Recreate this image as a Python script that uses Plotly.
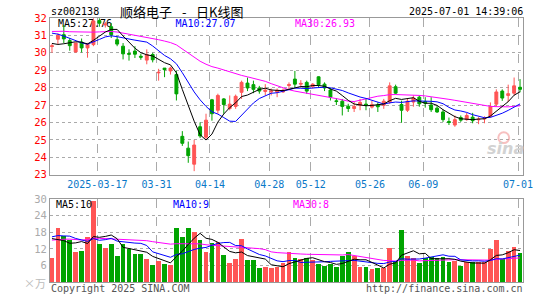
import plotly.graph_objects as go
import pandas as pd

# ---------------- data ----------------
dates = [
    "2025-03-05", "2025-03-06", "2025-03-07", "2025-03-10", "2025-03-11", "2025-03-12", "2025-03-13", "2025-03-14",
    "2025-03-17", "2025-03-18", "2025-03-19", "2025-03-20", "2025-03-21", "2025-03-24", "2025-03-25", "2025-03-26",
    "2025-03-27", "2025-03-28", "2025-03-31",
    "2025-04-01", "2025-04-02", "2025-04-03", "2025-04-07", "2025-04-08", "2025-04-09", "2025-04-10", "2025-04-11",
    "2025-04-14", "2025-04-15", "2025-04-16", "2025-04-17", "2025-04-18", "2025-04-21", "2025-04-22", "2025-04-23",
    "2025-04-24", "2025-04-25", "2025-04-28", "2025-04-29", "2025-04-30",
    "2025-05-06", "2025-05-07", "2025-05-08", "2025-05-09", "2025-05-12", "2025-05-13", "2025-05-14", "2025-05-15",
    "2025-05-16", "2025-05-19", "2025-05-20", "2025-05-21", "2025-05-22", "2025-05-23", "2025-05-26", "2025-05-27",
    "2025-05-28", "2025-05-29", "2025-05-30",
    "2025-06-03", "2025-06-04", "2025-06-05", "2025-06-06", "2025-06-09", "2025-06-10", "2025-06-11", "2025-06-12",
    "2025-06-13", "2025-06-16", "2025-06-17", "2025-06-18", "2025-06-19", "2025-06-20", "2025-06-23", "2025-06-24",
    "2025-06-25", "2025-06-26", "2025-06-27", "2025-06-30",
    "2025-07-01",
]

opens = [30.36, 30.78, 31.04, 30.70, 30.05, 30.62, 30.28, 30.47, 31.85, 31.60,
         31.50, 30.75, 30.38, 29.96, 30.10, 29.80, 29.58, 29.90, 28.85, 29.12,
         28.96, 28.75, 25.20, 24.52, 23.60, 25.75, 25.15, 27.30, 26.70, 27.35,
         26.80, 26.92, 27.73, 28.26, 28.17, 27.98, 27.78, 27.75, 27.75, 27.75,
         28.12, 28.49, 28.20, 28.30, 28.05, 28.62, 28.20, 27.86, 27.24, 27.22,
         26.93, 26.80, 26.98, 27.05, 26.88, 27.00, 26.98, 27.17, 28.05, 27.03,
         26.70, 27.17, 27.45, 27.20, 27.00, 26.82, 26.60, 26.05, 25.85, 26.28,
         26.16, 26.30, 26.15, 26.20, 26.35, 27.05, 27.80, 27.55, 27.68, 28.02]
highs = [30.52, 31.12, 31.60, 30.84, 30.58, 30.82, 30.57, 31.98, 31.98, 31.78,
         31.70, 30.94, 30.56, 30.20, 30.38, 29.95, 30.20, 30.00, 29.08, 29.12,
         29.20, 28.96, 25.50, 24.90, 25.00, 26.00, 26.50, 27.35, 27.65, 27.40,
         27.55, 27.60, 28.40, 28.58, 28.40, 28.10, 28.20, 27.95, 27.95, 27.95,
         28.30, 28.96, 28.43, 28.40, 28.25, 28.65, 28.30, 27.98, 27.40, 27.35,
         27.07, 27.17, 27.35, 27.35, 27.25, 27.15, 27.35, 28.30, 28.17, 27.25,
         27.35, 27.55, 27.55, 27.45, 27.45, 26.97, 26.73, 26.28, 26.40, 26.40,
         26.55, 26.55, 26.30, 26.35, 27.15, 27.90, 27.90, 28.17, 28.58, 28.49]
lows = [30.00, 30.48, 30.56, 30.12, 30.00, 30.02, 29.72, 30.38, 31.50, 31.45,
        30.85, 30.38, 29.62, 29.55, 29.70, 29.60, 29.34, 29.45, 28.40, 28.60,
        28.75, 27.26, 24.65, 23.68, 23.20, 25.10, 25.00, 26.10, 26.50, 26.50,
        26.70, 26.78, 27.35, 27.80, 27.68, 27.65, 27.55, 27.55, 27.45, 27.70,
        27.92, 28.00, 27.98, 27.64, 27.95, 27.98, 27.80, 27.26, 27.00, 26.40,
        26.60, 26.60, 26.70, 26.70, 26.80, 26.60, 26.78, 27.07, 27.62, 25.98,
        26.60, 26.90, 26.90, 26.85, 26.60, 26.55, 26.03, 25.85, 25.75, 26.03,
        26.10, 25.95, 25.90, 25.95, 26.28, 26.90, 27.24, 27.17, 27.55, 27.73]
closes = [30.40, 31.00, 30.80, 30.41, 30.56, 30.28, 30.50, 31.83, 31.70, 31.65,
          31.04, 30.50, 29.94, 29.92, 29.92, 29.75, 29.90, 29.60, 28.88, 29.03,
          29.12, 27.64, 24.80, 24.09, 24.70, 25.22, 26.13, 26.50, 27.55, 27.03,
          27.05, 27.50, 28.30, 27.98, 27.90, 27.80, 27.85, 27.80, 27.85, 27.85,
          28.17, 28.20, 28.24, 27.80, 28.20, 28.17, 27.98, 27.45, 27.20, 26.92,
          26.80, 26.92, 27.15, 27.00, 27.02, 26.90, 27.22, 28.10, 27.68, 26.70,
          27.22, 27.40, 27.07, 27.10, 26.73, 26.60, 26.16, 26.00, 26.16, 26.13,
          26.40, 26.10, 26.18, 26.24, 26.92, 27.75, 27.40, 27.65, 28.10, 27.90]
volumes = [8.7, 19.6, 16.7, 15.2, 10.7, 11.1, 16.1, 29.3, 13.8, 12.3,
           13.7, 9.3, 13.7, 11.7, 10.1, 10.1, 8.3, 6.2, 7.5, 6.5,
           6.2, 19.6, 16.1, 19.6, 17.9, 15.0, 10.7, 14.0, 14.3, 9.6,
           6.8, 8.2, 15.4, 7.9, 7.9, 5.0, 5.4, 5.1, 5.4, 6.7,
           10.7, 8.6, 8.1, 8.7, 7.9, 6.5, 5.7, 6.5, 5.4, 9.3,
           10.7, 9.5, 5.4, 5.4, 4.6, 5.0, 5.0, 12.3, 7.7, 18.6,
           9.3, 8.7, 6.8, 8.6, 9.0, 8.7, 8.9, 7.1, 7.4, 5.7,
           7.1, 7.1, 7.1, 7.1, 11.9, 15.0, 8.1, 11.0, 12.5, 10.5]

# sessions before the visible window, estimated from where the MA lines start
pre_closes = [30.6, 30.9, 31.2, 31.0, 30.7, 30.9, 31.3, 31.2, 31.0, 31.0,
              31.4, 31.7, 31.8, 31.5, 31.3, 31.6, 31.8, 31.5, 31.4, 31.7,
              31.6, 31.9, 31.8, 31.7, 31.6, 31.3, 30.6, 30.2, 30.2]
pre_volumes = [12, 15, 14, 18, 13, 11, 16, 14, 15, 17,
               13, 12, 16, 15, 14, 13, 17, 15, 14, 18,
               15, 18, 16, 19, 17, 21, 19, 20, 10]

tick_dates = ["2025-03-17", "2025-03-31", "2025-04-14", "2025-04-28",
              "2025-05-12", "2025-05-26", "2025-06-09", "2025-07-01"]
tick_labels = ["2025-03-17", "03-31", "04-14", "04-28", "05-12", "05-26", "06-09", "07-01"]
price_ticks = [23, 24, 25, 26, 27, 28, 29, 30, 31, 32]
vol_ticks = [6, 12, 18, 24, 30]

# ---------------- derived ----------------
n = len(dates)
idx = list(range(n))
cs = pd.Series(pre_closes + closes)
vs = pd.Series(pre_volumes + volumes)
k = len(pre_closes)
ma5 = cs.rolling(5).mean().iloc[k:].tolist()
ma10 = cs.rolling(10).mean().iloc[k:].tolist()
ma30 = cs.rolling(30).mean().iloc[k:].tolist()
vma5 = vs.rolling(5).mean().iloc[k:].tolist()
vma10 = vs.rolling(10).mean().iloc[k:].tolist()
vma30 = vs.rolling(30).mean().iloc[k:].tolist()

RED = "#FF5555"
GREEN = "#00A400"
MONO = "DejaVu Sans Mono"
vol_colors = [RED if c >= o else GREEN for o, c in zip(opens, closes)]
tick_pos = [dates.index(d) - 1 / 3 for d in tick_dates]

W, H = 545, 300
L, R, T, B = 50, 16, 18, 14
PH = H - T - B          # plot area height in px
PW = W - L - R


def px(xp):
    return (xp - L) / PW


def py(yp):
    return (H - B - yp) / PH


fig = go.Figure()

# candles
fig.add_trace(go.Candlestick(
    x=idx, open=opens, high=highs, low=lows, close=closes,
    increasing=dict(line=dict(color=RED, width=1), fillcolor=RED),
    decreasing=dict(line=dict(color=GREEN, width=1), fillcolor=GREEN),
    whiskerwidth=0, showlegend=False, hoverinfo="skip",
    xaxis="x", yaxis="y"))

for vals, col in [(ma30, "#FF00FF"), (ma10, "#0000FF"), (ma5, "#000000")]:
    fig.add_trace(go.Scatter(x=idx, y=vals, mode="lines", line=dict(color=col, width=1),
                             showlegend=False, hoverinfo="skip", xaxis="x", yaxis="y"))

# volume
fig.add_trace(go.Bar(x=idx, y=volumes, marker=dict(color=vol_colors, line=dict(width=0)),
                     width=0.8, showlegend=False, hoverinfo="skip", xaxis="x2", yaxis="y2"))
for vals, col in [(vma30, "#FF00FF"), (vma10, "#0000FF"), (vma5, "#000000")]:
    fig.add_trace(go.Scatter(x=idx, y=vals, mode="lines", line=dict(color=col, width=1),
                             showlegend=False, hoverinfo="skip", xaxis="x2", yaxis="y2"))

main_dom = [py(177), py(T)]
vol_dom = [py(H - B), py(202)]

axis_common = dict(showline=True, mirror=True, linecolor="#999999", linewidth=1,
                   zeroline=False, ticks="", fixedrange=True)

fig.update_layout(
    width=W, height=H, autosize=False,
    margin=dict(l=L, r=R, t=T, b=B, pad=0),
    paper_bgcolor="white", plot_bgcolor="white",
    showlegend=False, boxgap=0.3, bargap=0,
    xaxis=dict(domain=[0, 1], range=[-1 / 3, -1 / 3 + PW / 6], anchor="y",
               tickmode="array", tickvals=tick_pos, ticktext=tick_labels,
               showgrid=True, gridcolor="#AAAAAA", griddash="dash", gridwidth=1,
               tickfont=dict(family=MONO, size=10, color="#0A78C8"),
               rangeslider=dict(visible=False), **axis_common),
    yaxis=dict(domain=main_dom, range=[23, 32], anchor="x",
               tickmode="array", tickvals=price_ticks,
               showgrid=True, gridcolor="#AAAAAA", griddash="dot", gridwidth=1,
               tickfont=dict(family=MONO, size=10.5, color="#FF0000"), **axis_common),
    xaxis2=dict(domain=[0, 1], range=[-1 / 3, -1 / 3 + PW / 6], anchor="y2", matches="x",
                tickmode="array", tickvals=tick_pos, showticklabels=False,
                showgrid=True, gridcolor="#AAAAAA", griddash="dash", gridwidth=1,
                **axis_common),
    yaxis2=dict(domain=vol_dom, range=[0, 30], anchor="x2",
                tickmode="array", tickvals=vol_ticks,
                showgrid=True, gridcolor="#AAAAAA", griddash="dot", gridwidth=1,
                tickfont=dict(family=MONO, size=10.5, color="#AAAAAA"), **axis_common),
)

# MA legends in the price panel, drawn beneath the candles
def price_y(yp):
    return 32 - (yp - 18) * 9 / 159


for x_pix, text, col in [(55, "MA5:27.76", "#000000"), (174, "MA10:27.07", "#0000FF"),
                         (295, "MA30:26.93", "#FF00FF")]:
    x0 = (x_pix - 52) / 6
    fig.add_shape(type="rect", xref="x", yref="y", x0=x0, x1=x0 + 12,
                  y0=price_y(29), y1=price_y(17), line=dict(width=0),
                  fillcolor="rgba(0,0,0,0)", layer="between",
                  label=dict(text=text, textposition="middle left", padding=0,
                             font=dict(family=MONO, size=10, color=col)))

annots = []
for x_pix, text, col in [(55, "MA5:10", "#000000"), (174, "MA10:9", "#0000FF"),
                         (295, "MA30:8", "#FF00FF")]:
    annots.append(dict(xref="paper", yref="paper", x=px(x_pix - 1), y=py(207), text=text,
                       xanchor="left", yanchor="middle", showarrow=False,
                       font=dict(family=MONO, size=10, color=col)))

annots += [
    dict(xref="paper", yref="paper", x=px(49), y=py(11), text="sz002138", xanchor="left",
         yanchor="middle", showarrow=False, font=dict(family=MONO, size=10, color="#000000")),
    dict(xref="paper", yref="paper", x=px(119), y=py(11), text="顺络电子", xanchor="left",
         yanchor="middle", showarrow=False,
         font=dict(family="Noto Sans CJK SC", size=13, color="#000000")),
    dict(xref="paper", yref="paper", x=px(186), y=py(11), text="-", xanchor="center",
         yanchor="middle", showarrow=False,
         font=dict(family="Noto Sans CJK SC", size=13, color="#000000")),
    dict(xref="paper", yref="paper", x=px(196), y=py(11), text="日K线图", xanchor="left",
         yanchor="middle", showarrow=False,
         font=dict(family="Noto Sans CJK SC", size=13, color="#000000")),
    dict(xref="paper", yref="paper", x=1.005, y=py(11), text="2025-07-01 14:39:06",
         xanchor="right", yanchor="middle", showarrow=False,
         font=dict(family=MONO, size=10, color="#000000")),
    dict(xref="paper", yref="paper", x=px(49), y=py(293), text="Copyright 2025 SINA.COM",
         xanchor="left", yanchor="middle", showarrow=False,
         font=dict(family=MONO, size=10, color="#555555")),
    dict(xref="paper", yref="paper", x=1.005, y=py(293), text="http://finance.sina.com.cn",
         xanchor="right", yanchor="middle", showarrow=False,
         font=dict(family=MONO, size=10, color="#555555")),
    dict(xref="paper", yref="paper", x=px(35), y=py(287), text="×万", xanchor="center",
         yanchor="middle", showarrow=False,
         font=dict(family="Noto Sans CJK SC", size=11, color="#BBBBBB")),
    dict(xref="paper", yref="paper", x=px(511), y=py(150), text="<b><i>sina</i></b>",
         xanchor="center", yanchor="middle", showarrow=False,
         font=dict(family="DejaVu Sans", size=16, color="#D2D2D2")),
]
fig.update_layout(annotations=annots)

# faint red "eye" of the watermark
fig.add_shape(type="circle", xref="paper", yref="paper",
              x0=px(504), x1=px(515), y0=py(145), y1=py(134),
              line=dict(color="rgba(240,130,130,0.5)", width=2), fillcolor="rgba(0,0,0,0)")

fig.write_html("out.html")
